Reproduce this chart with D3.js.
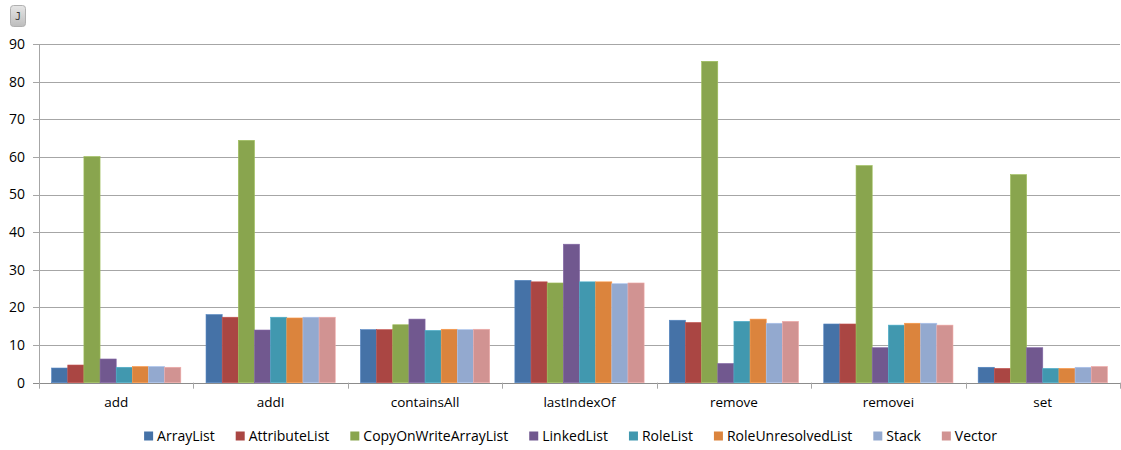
<!DOCTYPE html>
<html><head><meta charset="utf-8">
<script src="https://cdn.jsdelivr.net/npm/d3@7"></script>
<style>
body{margin:0;background:#fff;}
text{font-family:"Open Sans","Noto Sans",sans-serif;fill:#000;}
</style></head>
<body><svg id="chart" width="1121" height="450"></svg>
<script>
const categories = ["add","addI","containsAll","lastIndexOf","remove","removei","set"];
const seriesNames = ["ArrayList","AttributeList","CopyOnWriteArrayList","LinkedList","RoleList","RoleUnresolvedList","Stack","Vector"];
const ArrayList          = [3.9, 18.1, 14.1, 27.2, 16.6, 15.6, 4.1];
const AttributeList      = [4.7, 17.4, 14.1, 26.8, 16.0, 15.6, 3.8];
const CopyOnWriteArrayList = [60.1, 64.4, 15.4, 26.5, 85.4, 57.7, 55.3];
const LinkedList         = [6.3, 14.0, 16.9, 36.8, 5.1, 9.3, 9.3];
const RoleList           = [4.1, 17.4, 13.9, 26.8, 16.3, 15.3, 3.8];
const RoleUnresolvedList = [4.3, 17.2, 14.2, 26.8, 16.9, 15.8, 3.8];
const Stack              = [4.3, 17.4, 14.1, 26.3, 15.8, 15.8, 4.1];
const Vector             = [4.1, 17.4, 14.2, 26.5, 16.3, 15.3, 4.3];
const seriesValues = [ArrayList, AttributeList, CopyOnWriteArrayList, LinkedList, RoleList, RoleUnresolvedList, Stack, Vector];
const colors = ["#4572A7","#AA4643","#89A54E","#71588F","#4198AF","#DB843D","#93A9CF","#D19392"];
const yTicks = [0,10,20,30,40,50,60,70,80,90];

const svg = d3.select("#chart");
const mLeft = 39, mRight = 1120, mTop = 44, mBottom = 382.7;

const x0 = d3.scaleBand().domain(categories).range([mLeft, mRight]).padding(0);
const x1 = d3.scaleBand().domain(seriesNames).range([0, x0.bandwidth()]).paddingInner(0).paddingOuter(0.78);
const y = d3.scaleLinear().domain([0, 90]).range([mBottom, mTop]);

// gridlines
svg.append("g").selectAll("line").data(yTicks).join("line")
  .attr("x1", mLeft - 6).attr("x2", mRight)
  .attr("y1", d => Math.round(y(d)) + 0.5).attr("y2", d => Math.round(y(d)) + 0.5)
  .attr("stroke", d => d === 0 ? "#8c8c8c" : "#a6a6a6").attr("stroke-width", 1);

// y labels
svg.append("g").selectAll("text").data(yTicks).join("text")
  .attr("x", 25).attr("y", d => y(d)).attr("dy", "0.35em")
  .attr("text-anchor", "end").attr("font-size", 14).text(d => d);

// bars
const groups = svg.append("g").selectAll("g").data(categories).join("g")
  .attr("transform", d => `translate(${x0(d)},0)`);
groups.selectAll("rect").data((c, ci) => seriesNames.map((s, si) => ({s, si, v: seriesValues[si][ci]})))
  .join("rect")
  .attr("x", d => x1(d.s)).attr("width", x1.bandwidth())
  .attr("y", d => y(d.v)).attr("height", d => y(0) - y(d.v))
  .attr("fill", d => colors[d.si])
  .attr("stroke", d => d3.color(colors[d.si]).brighter(0.4)).attr("stroke-width", 0.6);

// y axis line
svg.append("line").attr("x1", mLeft + 0.5).attr("x2", mLeft + 0.5).attr("y1", mTop).attr("y2", mBottom + 6)
  .attr("stroke", "#a6a6a6");

// category ticks
const bounds = categories.map(c => x0(c)).concat([mRight]);
svg.append("g").selectAll("line").data(bounds.slice(1)).join("line")
  .attr("x1", d => Math.round(d) + 0.5).attr("x2", d => Math.round(d) + 0.5)
  .attr("y1", mBottom).attr("y2", mBottom + 6).attr("stroke", "#a6a6a6");

// category labels
svg.append("g").selectAll("text").data(categories).join("text")
  .attr("x", d => x0(d) + x0.bandwidth() / 2).attr("y", 407)
  .attr("text-anchor", "middle").attr("font-size", 13.5).text(d => d);

// legend
const leg = svg.append("g");
const items = leg.selectAll("g").data(seriesNames).join("g");
items.append("rect").attr("width", 9).attr("height", 9).attr("y", 431.5).attr("fill", (d, i) => colors[i]);
items.append("text").attr("x", 13).attr("y", 436).attr("dy", "0.35em").attr("font-size", 14).text(d => d);
let xs = 0; const gap = 21; const offs = [];
items.each(function(d, i) {
  const w = d3.select(this).select("text").node().getComputedTextLength();
  offs.push(xs); xs += 13 + w + gap;
});
const total = xs - gap;
const startX = 570.5 - total / 2;
items.attr("transform", (d, i) => `translate(${startX + offs[i]},0)`);

// "J" button
const btn = svg.append("g");
const grad = svg.append("defs").append("linearGradient").attr("id", "bg").attr("x1", 0).attr("x2", 0).attr("y1", 0).attr("y2", 1);
grad.append("stop").attr("offset", "0%").attr("stop-color", "#e6e6e6");
grad.append("stop").attr("offset", "100%").attr("stop-color", "#bdbdbd");
btn.append("rect").attr("x", 10.5).attr("y", 5.5).attr("width", 15).attr("height", 21).attr("rx", 3)
  .attr("fill", "url(#bg)").attr("stroke", "#b0b0b0");
btn.append("text").attr("x", 18).attr("y", 16).attr("dy", "0.35em").attr("text-anchor", "middle")
  .attr("font-size", 10).style("font-family", "DejaVu Sans Mono, monospace").style("fill", "#333").text("J");
</script></body></html>
